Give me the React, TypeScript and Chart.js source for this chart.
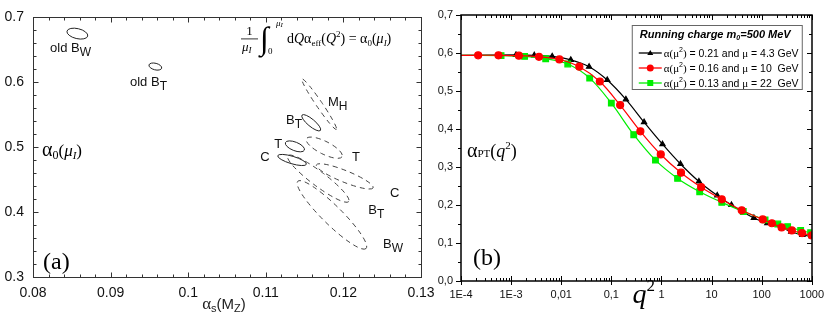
import React, { useEffect, useRef } from "react";
import { Chart, registerables } from "chart.js";

Chart.register(...registerables);

const SANS = '"Liberation Sans", Arial, Helvetica, sans-serif';
const SERIF = '"Liberation Serif", "Times New Roman", serif';

// ---------------- Panel (a) ----------------
const aXTicks = [0.08, 0.09, 0.1, 0.11, 0.12, 0.13];
const aXTickLabels = ["0.08", "0.09", "0.1", "0.11", "0.12", "0.13"];
const aYTicks = [0.3, 0.4, 0.5, 0.6, 0.7];
const aYTickLabels = ["0.3", "0.4", "0.5", "0.6", "0.7"];
// ellipses: major-axis end points (alpha_s, alpha_0) and minor/major ratio
const solidEllipses = [
  [0.08438, 0.6788, 0.08705, 0.6712, 0.47],
  [0.09495, 0.6268, 0.09658, 0.6217, 0.5],
  [0.11467, 0.5495, 0.11704, 0.5258, 0.3],
  [0.11253, 0.5071, 0.11497, 0.4955, 0.42],
  [0.11154, 0.4869, 0.11523, 0.4737, 0.25],
];
const dashedEllipses = [
  [0.11467, 0.6051, 0.1191, 0.5273, 0.1],
  [0.11523, 0.5131, 0.11983, 0.4854, 0.32],
  [0.11652, 0.4727, 0.12383, 0.4374, 0.19],
  [0.11283, 0.4869, 0.12069, 0.4162, 0.19],
  [0.11412, 0.4475, 0.12292, 0.3439, 0.2],
];
const labelMain = ["old B", "old B", "M", "B", "T", "C", "T", "C", "B", "B"];
const labelSub = ["W", "T", "H", "T", "", "", "", "", "T", "W"];
const labelX = [0.0822, 0.0925, 0.118, 0.1126, 0.1111, 0.1093, 0.1211, 0.126, 0.1232, 0.1251];
const labelY = [0.646, 0.595, 0.564, 0.535, 0.499, 0.479, 0.479, 0.423, 0.397, 0.344];

// ---------------- Panel (b) ----------------
const bXTicks = [1e-4, 1e-3, 0.01, 0.1, 1, 10, 100, 1000];
const bXTickLabels = ["1E-4", "1E-3", "0,01", "0,1", "1", "10", "100", "1000"];
const bYTicks = [0, 0.1, 0.2, 0.3, 0.4, 0.5, 0.6, 0.7];
const bYTickLabels = ["0,0", "0,1", "0,2", "0,3", "0,4", "0,5", "0,6", "0,7"];

const blackQ = [1e-4, 1.25e-3, 2.9e-3, 6.6e-3, 0.0155, 0.036, 0.083, 0.195, 0.45, 1.05, 2.4, 5.6, 13, 25, 70, 130, 250, 390, 650, 1000];
const blackA = [0.594, 0.595, 0.594, 0.591, 0.582, 0.564, 0.529, 0.478, 0.418, 0.36, 0.308, 0.262, 0.225, 0.2, 0.166, 0.152, 0.14, 0.13, 0.121, 0.118];
const redQ = [1e-4, 2.2e-4, 5.6e-4, 1.43e-3, 3.6e-3, 9.2e-3, 0.023, 0.059, 0.15, 0.38, 0.97, 2.46, 6.2, 16, 40, 105, 160, 250, 400, 640, 1000];
const redA = [0.594, 0.594, 0.594, 0.593, 0.59, 0.583, 0.564, 0.525, 0.463, 0.394, 0.333, 0.285, 0.247, 0.215, 0.186, 0.162, 0.152, 0.141, 0.133, 0.126, 0.12];
const greenQ = [1e-4, 6.3e-4, 1.86e-3, 4.9e-3, 0.0135, 0.037, 0.1, 0.28, 0.76, 2.1, 5.8, 16, 43, 117, 210, 330, 600, 950];
const greenA = [0.594, 0.593, 0.591, 0.585, 0.571, 0.534, 0.468, 0.385, 0.318, 0.27, 0.235, 0.207, 0.183, 0.161, 0.15, 0.143, 0.133, 0.127];

const legendTitle = "Running charge m";
const legendAlpha = ["0.21", "0.16", "0.13"];
const legendMu = ["4.3", "10 ", "22 "];

type Part = { t: string; f: string; dy?: number };
function drawRich(ctx: CanvasRenderingContext2D, x: number, y: number, parts: Part[]) {
  let cx = x;
  for (const p of parts) {
    ctx.font = p.f;
    ctx.fillText(p.t, cx, y + (p.dy || 0));
    cx += ctx.measureText(p.t).width;
  }
  return cx;
}
function richWidth(ctx: CanvasRenderingContext2D, parts: Part[]) {
  let w = 0;
  for (const p of parts) {
    ctx.font = p.f;
    w += ctx.measureText(p.t).width;
  }
  return w;
}

const panelAPlugin = {
  id: "panelA",
  afterDraw(chart: any) {
    const { ctx, chartArea: a, scales } = chart;
    const x = scales.x, y = scales.y;
    ctx.save();
    const L = Math.round(a.left) + 0.5, R = Math.round(a.right) + 0.5;
    const T = Math.round(a.top) + 0.5, B = Math.round(a.bottom) + 0.5;
    ctx.strokeStyle = "#333";
    ctx.lineWidth = 1;
    ctx.strokeRect(L, T, R - L, B - T);
    ctx.beginPath();
    for (let i = 0; i <= 25; i++) {
      const px = Math.round(x.getPixelForValue(0.08 + i * 0.002)) + 0.5;
      const len = i % 5 === 0 ? 5 : 3;
      ctx.moveTo(px, B); ctx.lineTo(px, B - len);
      ctx.moveTo(px, T); ctx.lineTo(px, T + len);
    }
    for (let i = 0; i <= 20; i++) {
      const py = Math.round(y.getPixelForValue(0.3 + i * 0.02)) + 0.5;
      const len = i % 5 === 0 ? 5 : 3;
      ctx.moveTo(L, py); ctx.lineTo(L + len, py);
      ctx.moveTo(R, py); ctx.lineTo(R - len, py);
    }
    ctx.stroke();

    const drawEll = (e: number[]) => {
      const x1 = x.getPixelForValue(e[0]), y1 = y.getPixelForValue(e[1]);
      const x2 = x.getPixelForValue(e[2]), y2 = y.getPixelForValue(e[3]);
      const rx = Math.hypot(x2 - x1, y2 - y1) / 2;
      ctx.beginPath();
      ctx.ellipse((x1 + x2) / 2, (y1 + y2) / 2, rx, rx * e[4], Math.atan2(y2 - y1, x2 - x1), 0, Math.PI * 2);
      ctx.stroke();
    };
    ctx.strokeStyle = "#222";
    ctx.lineWidth = 1;
    solidEllipses.forEach(drawEll);
    ctx.setLineDash([5, 4]);
    ctx.strokeStyle = "#444";
    dashedEllipses.forEach(drawEll);
    ctx.setLineDash([]);

    ctx.fillStyle = "#111";
    ctx.textAlign = "left";
    ctx.textBaseline = "alphabetic";
    labelMain.forEach((m, i) => {
      const px = x.getPixelForValue(labelX[i]);
      const py = y.getPixelForValue(labelY[i]);
      drawRich(ctx, px, py, [
        { t: m, f: `13px ${SANS}` },
        { t: labelSub[i], f: `12px ${SANS}`, dy: 4 },
      ]);
    });

    // formula
    const fx = a.right - 180, ft = a.top;
    ctx.fillStyle = "#000";
    ctx.font = `13px ${SERIF}`;
    ctx.textAlign = "center";
    ctx.fillText("1", fx + 8.5, ft + 18);
    ctx.textAlign = "left";
    ctx.beginPath();
    ctx.lineWidth = 0.8;
    ctx.strokeStyle = "#000";
    ctx.moveTo(fx, ft + 21.5); ctx.lineTo(fx + 17, ft + 21.5);
    ctx.stroke();
    drawRich(ctx, fx + 1, ft + 34, [
      { t: "μ", f: `italic 13px ${SERIF}` },
      { t: "I", f: `italic 9px ${SERIF}`, dy: 2 },
    ]);
    ctx.font = `32px ${SERIF}`;
    ctx.fillText("∫", fx + 19, ft + 32);
    drawRich(ctx, fx + 35, ft + 9, [
      { t: "μ", f: `italic 9px ${SERIF}` },
      { t: "I", f: `italic 7px ${SERIF}`, dy: 1 },
    ]);
    drawRich(ctx, fx + 27, ft + 37, [{ t: "0", f: `9px ${SERIF}` }]);
    drawRich(ctx, fx + 46, ft + 26, [
      { t: "d", f: `14px ${SERIF}` },
      { t: "Q", f: `italic 14px ${SERIF}` },
      { t: "α", f: `14px ${SERIF}` },
      { t: "eff", f: `9px ${SERIF}`, dy: 3 },
      { t: "(", f: `14px ${SERIF}` },
      { t: "Q", f: `italic 14px ${SERIF}` },
      { t: "2", f: `9px ${SERIF}`, dy: -6 },
      { t: ") = ", f: `14px ${SERIF}` },
      { t: "α", f: `14px ${SERIF}` },
      { t: "0", f: `9px ${SERIF}`, dy: 3 },
      { t: "(", f: `14px ${SERIF}` },
      { t: "μ", f: `italic 14px ${SERIF}` },
      { t: "I", f: `italic 9px ${SERIF}`, dy: 3 },
      { t: ")", f: `14px ${SERIF}` },
    ]);

    // alpha_0 label
    drawRich(ctx, a.left + 9, a.top + 139, [
      { t: "α", f: `20px ${SERIF}` },
      { t: "0", f: `12px ${SERIF}`, dy: 3 },
      { t: "(", f: `17px ${SERIF}` },
      { t: "μ", f: `italic 17px ${SERIF}` },
      { t: "I", f: `italic 11px ${SERIF}`, dy: 3 },
      { t: ")", f: `17px ${SERIF}` },
    ]);
    // (a)
    drawRich(ctx, a.left + 10, a.top + 252, [{ t: "(a)", f: `24px ${SERIF}` }]);
    // x title
    const tParts: Part[] = [
      { t: "α", f: `17px ${SERIF}` },
      { t: "s", f: `11px ${SANS}`, dy: 3 },
      { t: "(M", f: `15px ${SANS}` },
      { t: "Z", f: `11px ${SANS}`, dy: 3 },
      { t: ")", f: `15px ${SANS}` },
    ];
    const tw = richWidth(ctx, tParts);
    ctx.fillStyle = "#222";
    drawRich(ctx, (a.left + a.right) / 2 - tw / 2 - 3, a.bottom + 32, tParts);
    ctx.restore();
  },
};

const panelBPlugin = {
  id: "panelB",
  afterDraw(chart: any) {
    const { ctx, chartArea: a, scales } = chart;
    const x = scales.x, y = scales.y;
    ctx.save();
    const L = Math.round(a.left), R = Math.round(a.right);
    const T = Math.round(a.top), B = Math.round(a.bottom);
    ctx.strokeStyle = "#000";
    ctx.lineWidth = 1.5;
    ctx.strokeRect(L, T, R - L, B - T);
    ctx.lineWidth = 1;
    ctx.beginPath();
    for (let e = -4; e <= 3; e++) {
      for (let k = 1; k <= 9; k++) {
        const v = k * Math.pow(10, e);
        if (v > 1000.0001) break;
        const px = Math.round(x.getPixelForValue(v)) + 0.5;
        const major = k === 1;
        const len = major ? 5 : 3;
        ctx.moveTo(px, B); ctx.lineTo(px, B - len);
        if (major) { ctx.moveTo(px, B); ctx.lineTo(px, B + 4); }
        ctx.moveTo(px, T); ctx.lineTo(px, T + len);
      }
    }
    for (let i = 0; i <= 14; i++) {
      const py = Math.round(y.getPixelForValue(i * 0.05)) + 0.5;
      const major = i % 2 === 0;
      const len = major ? 5 : 3;
      ctx.moveTo(L, py); ctx.lineTo(L - len, py);
      ctx.moveTo(R, py); ctx.lineTo(R - len, py);
    }
    ctx.stroke();

    // legend
    const bx = a.right - 180, by = a.top + 10, bw = 170, bh = 64;
    ctx.fillStyle = "#fff";
    ctx.fillRect(bx, by, bw, bh);
    ctx.strokeStyle = "#666";
    ctx.lineWidth = 1;
    ctx.strokeRect(bx + 0.5, by + 0.5, bw, bh);
    ctx.fillStyle = "#000";
    ctx.textAlign = "left";
    ctx.textBaseline = "alphabetic";
    drawRich(ctx, bx + 8, by + 13, [
      { t: legendTitle, f: `italic bold 11px ${SANS}` },
      { t: "0", f: `italic bold 7px ${SANS}`, dy: 2 },
      { t: "=500 MeV", f: `italic bold 11px ${SANS}` },
    ]);
    const colors = ["#000", "#ff0000", "#00ee00"];
    colors.forEach((c, i) => {
      const yc = by + 28 + i * 15;
      ctx.strokeStyle = c;
      ctx.fillStyle = c;
      ctx.lineWidth = 1.3;
      ctx.beginPath();
      ctx.moveTo(bx + 7, yc); ctx.lineTo(bx + 30, yc);
      ctx.stroke();
      const mx = bx + 18.5;
      ctx.beginPath();
      if (i === 0) {
        ctx.moveTo(mx, yc - 3); ctx.lineTo(mx + 3, yc + 2); ctx.lineTo(mx - 3, yc + 2); ctx.closePath();
      } else if (i === 1) {
        ctx.arc(mx, yc, 3.5, 0, Math.PI * 2);
      } else {
        ctx.rect(mx - 3, yc - 3, 6, 6);
      }
      ctx.fill();
      ctx.fillStyle = "#000";
      drawRich(ctx, bx + 32, yc + 4, [
        { t: "α(μ", f: `11px ${SERIF}` },
        { t: "2", f: `7px ${SANS}`, dy: -5 },
        { t: ") ", f: `11px ${SERIF}` },
        { t: `= ${legendAlpha[i]} and `, f: `10.5px ${SANS}` },
        { t: "μ", f: `11px ${SERIF}` },
        { t: ` = ${legendMu[i]} GeV`, f: `10.5px ${SANS}` },
      ]);
    });

    ctx.fillStyle = "#000";
    drawRich(ctx, a.left + 6, a.top + 142, [
      { t: "α", f: `20px ${SERIF}` },
      { t: "PT", f: `11px ${SERIF}` },
      { t: "(", f: `18px ${SERIF}` },
      { t: "q", f: `italic 18px ${SERIF}` },
      { t: "2", f: `11px ${SERIF}`, dy: -8 },
      { t: ")", f: `18px ${SERIF}` },
    ]);
    drawRich(ctx, a.left + 12, a.top + 250, [{ t: "(b)", f: `24px ${SERIF}` }]);
    drawRich(ctx, (a.left + a.right) / 2 - 4, a.bottom + 22, [
      { t: "q", f: `italic 28px ${SERIF}` },
      { t: "2", f: `17px ${SERIF}`, dy: -12 },
    ]);
    ctx.restore();
  },
};

function mkSeries(q: number[], v: number[], color: string, style: string, r: number, order: number) {
  return {
    data: q.map((qq, i) => ({ x: qq, y: v[i] })),
    borderColor: color,
    backgroundColor: color,
    pointBackgroundColor: color,
    pointBorderColor: color,
    pointStyle: style,
    pointRadius: (c: any) => (c.dataIndex === 0 ? 0 : r),
    borderWidth: 1.2,
    tension: 0.35,
    order,
  };
}

export default function App() {
  const refA = useRef<HTMLCanvasElement>(null);
  const refB = useRef<HTMLCanvasElement>(null);

  useEffect(() => {
    const chartA = new Chart(refA.current!, {
      type: "scatter",
      data: { datasets: [] },
      options: {
        responsive: false,
        animation: false,
        events: [],
        layout: { padding: { top: 13, right: 24, left: 0, bottom: 0 } },
        plugins: { legend: { display: false }, tooltip: { enabled: false } },
        scales: {
          x: {
            type: "linear",
            min: 0.08,
            max: 0.13,
            grid: { display: false, drawTicks: false },
            border: { display: false },
            afterFit: (s: any) => { s.height = 41; },
            afterBuildTicks: (s: any) => { s.ticks = aXTicks.map((v) => ({ value: v })); },
            ticks: {
              autoSkip: false,
              maxRotation: 0,
              padding: 8,
              color: "#111",
              font: { family: SANS, size: 14 },
              callback: (v: any, i: number) => aXTickLabels[i],
            },
          },
          y: {
            type: "linear",
            min: 0.3,
            max: 0.7,
            grid: { display: false, drawTicks: false },
            border: { display: false },
            afterFit: (s: any) => { s.width = 33; },
            afterBuildTicks: (s: any) => { s.ticks = aYTicks.map((v) => ({ value: v })); },
            ticks: {
              autoSkip: false,
              padding: 9,
              color: "#111",
              font: { family: SANS, size: 14 },
              callback: (v: any, i: number) => aYTickLabels[i],
            },
          },
        },
      },
      plugins: [panelAPlugin],
    } as any);

    const chartB = new Chart(refB.current!, {
      type: "line",
      data: {
        datasets: [
          mkSeries(redQ, redA, "#ff0000", "circle", 3.5, 0),
          mkSeries(greenQ, greenA, "#00ee00", "rect", 4, 1),
          mkSeries(blackQ, blackA, "#000000", "triangle", 3, 2),
        ],
      },
      options: {
        responsive: false,
        animation: false,
        events: [],
        layout: { padding: { top: 15, right: 13, left: 0, bottom: 0 } },
        plugins: { legend: { display: false }, tooltip: { enabled: false } },
        scales: {
          x: {
            type: "logarithmic",
            min: 1e-4,
            max: 1000,
            grid: { display: false, drawTicks: false },
            border: { display: false },
            afterFit: (s: any) => { s.height = 37; },
            afterBuildTicks: (s: any) => { s.ticks = bXTicks.map((v) => ({ value: v })); },
            ticks: {
              autoSkip: false,
              maxRotation: 0,
              padding: 7,
              color: "#111",
              font: { family: SANS, size: 11 },
              callback: (v: any, i: number) => bXTickLabels[i],
            },
          },
          y: {
            type: "linear",
            min: 0,
            max: 0.7,
            grid: { display: false, drawTicks: false },
            border: { display: false },
            afterFit: (s: any) => { s.width = 38; },
            afterBuildTicks: (s: any) => { s.ticks = bYTicks.map((v) => ({ value: v })); },
            ticks: {
              autoSkip: false,
              padding: 8,
              color: "#111",
              font: { family: SANS, size: 11 },
              callback: (v: any, i: number) => bYTickLabels[i],
            },
          },
        },
      },
      plugins: [panelBPlugin],
    } as any);

    return () => {
      chartA.destroy();
      chartB.destroy();
    };
  }, []);

  return (
    <div style={{ position: "fixed", left: 0, top: 0, width: 831, height: 318, background: "#fff", overflow: "hidden" }}>
      <canvas ref={refA} width={445} height={318} style={{ position: "absolute", left: 0, top: 0, width: 445, height: 318 }} />
      <canvas ref={refB} width={408} height={318} style={{ position: "absolute", left: 423, top: 0, width: 408, height: 318 }} />
    </div>
  );
}
